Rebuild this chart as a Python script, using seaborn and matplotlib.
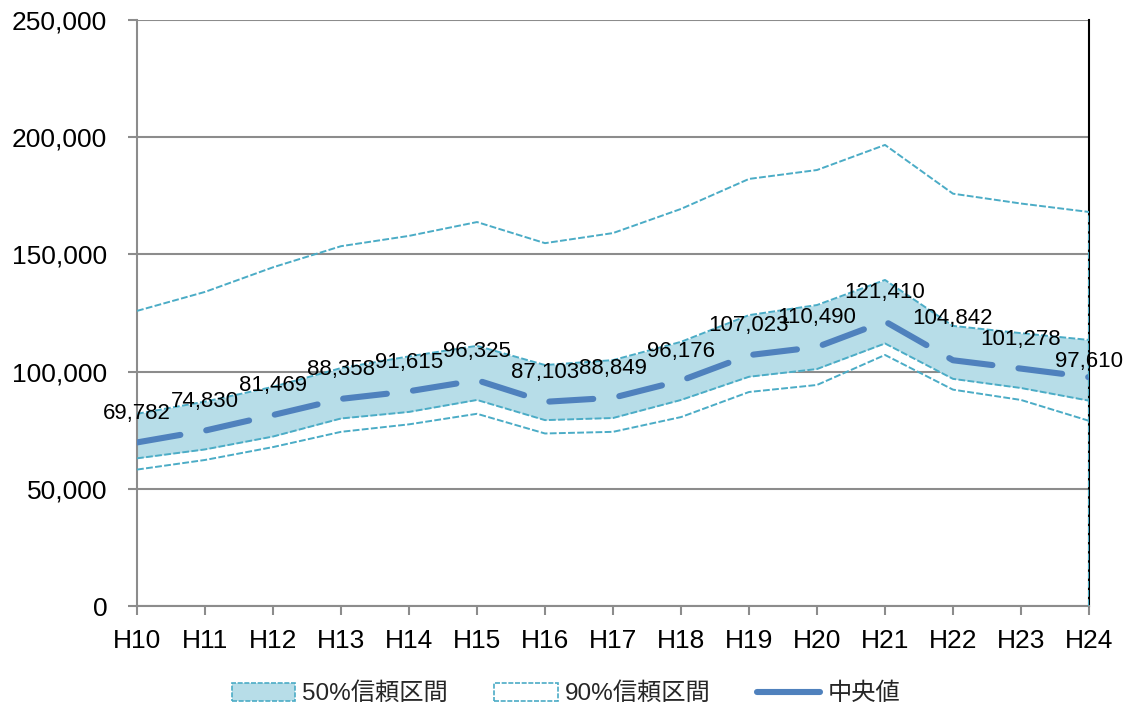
import numpy as np
import pandas as pd
import matplotlib
matplotlib.use("Agg")
import matplotlib.pyplot as plt
import seaborn as sns
from matplotlib.patches import Patch
from matplotlib.lines import Line2D
from matplotlib.ticker import FuncFormatter

# データ
years = ['H10', 'H11', 'H12', 'H13', 'H14', 'H15', 'H16', 'H17',
         'H18', 'H19', 'H20', 'H21', 'H22', 'H23', 'H24']
median = [69782, 74830, 81469, 88358, 91615, 96325, 87103, 88849,
          96176, 107023, 110490, 121410, 104842, 101278, 97610]
ci50_low = [63000, 66800, 72300, 80000, 82800, 87900, 79300, 80200,
            87900, 97800, 101100, 112000, 96900, 93000, 87600]
ci50_high = [82000, 87200, 93500, 101500, 106500, 111000, 102800, 104900,
             112700, 124100, 128400, 139100, 119500, 116400, 113500]
ci90_low = [58200, 62300, 67800, 74300, 77500, 82000, 73600, 74300,
            80600, 91300, 94300, 107100, 92300, 87900, 79000]
ci90_high = [125900, 134000, 144500, 153500, 157900, 163800, 154800, 159100,
             169400, 182200, 186000, 196700, 175900, 171700, 168100]

df = pd.DataFrame({'year': years, 'median': median,
                   'ci50_low': ci50_low, 'ci50_high': ci50_high,
                   'ci90_low': ci90_low, 'ci90_high': ci90_high})
df['pos'] = np.arange(len(df))

sns.set_style("white")
plt.rcParams['font.family'] = ['Liberation Sans', 'Noto Sans CJK JP', 'DejaVu Sans']

band_fill = '#B7DDE8'
band_edge = '#4BACC6'
med_color = '#4F81BD'
grid_color = '#8C8C8C'

fig = plt.figure(figsize=(11.32, 7.11), dpi=100)
ax = fig.add_axes([137 / 1132, 1 - 606 / 711, (1089 - 137) / 1132, (606 - 20) / 711])

ax.fill_between(df['pos'], df['ci50_low'], df['ci50_high'], color=band_fill, lw=0, zorder=2)

band_style = dict(color=band_edge, lw=1.4, zorder=3)
for col in ['ci90_high', 'ci50_high', 'ci50_low', 'ci90_low']:
    sns.lineplot(data=df, x='pos', y=col, ax=ax, **band_style)
for ln in ax.lines:
    ln.set_dashes((3.5, 1.2))

sns.lineplot(data=df, x='pos', y='median', ax=ax, color=med_color, lw=4.4, zorder=4)
med_line = ax.lines[-1]
med_line.set_dashes((7.2, 4.3))
med_line.set_dash_capstyle('round')

# 右端の縦線
ax.vlines(df['pos'].iloc[-1], 0, df['ci90_high'].iloc[-1], colors=band_edge,
          linestyles=(0, (3.5, 1.2)), lw=1.4, zorder=5)

# データラベル
offsets = {'H22': 30, 'H24': 11}
for p, y, v in zip(df['pos'], df['median'], df['year']):
    ax.annotate(f'{y:,}', (p, y), xytext=(0, offsets.get(v, 21)),
                textcoords='offset points', ha='center', va='center',
                fontsize=16, color='black', zorder=6)

ax.set_xlim(0, len(years) - 1)
ax.set_ylim(0, 250000)
ax.set_yticks(np.arange(0, 250001, 50000))
ax.yaxis.set_major_formatter(FuncFormatter(lambda v, _: f'{int(v):,}'))
ax.set_xticks(df['pos'])
ax.set_xticklabels(years)
ax.set_xlabel('')
ax.set_ylabel('')

ax.grid(axis='y', color=grid_color, lw=1.5, zorder=1)
ax.set_axisbelow(True)
ax.tick_params(axis='both', which='both', direction='out', length=6.5, width=1.5,
               color=grid_color, labelsize=19, labelcolor='black')
ax.tick_params(axis='y', pad=15)
ax.tick_params(axis='x', pad=10)
ax.tick_params(left=True, bottom=True)
for side in ['left', 'bottom']:
    ax.spines[side].set_color(grid_color)
    ax.spines[side].set_linewidth(1.5)
ax.spines['top'].set_visible(False)
ax.spines['right'].set_color('black')
ax.spines['right'].set_linewidth(1.5)

handles = [
    Patch(facecolor=band_fill, edgecolor=band_edge, linestyle=(0, (3, 1)), lw=1.2),
    Patch(facecolor='white', edgecolor=band_edge, linestyle=(0, (3, 1)), lw=1.2),
    Line2D([0], [0], color=med_color, lw=4.4, solid_capstyle='round'),
]
labels = ['50%信頼区間', '90%信頼区間', '中央値']
fig.legend(handles, labels, loc='center', bbox_to_anchor=(0.5, 1 - 694 / 711), ncol=3,
           frameon=False, prop={'family': ['Liberation Sans', 'Noto Sans CJK JP'], 'size': 17.5},
           handlelength=2.6, handleheight=0.8, columnspacing=1.9, handletextpad=0.3)

fig.savefig('out.png', dpi=100)
